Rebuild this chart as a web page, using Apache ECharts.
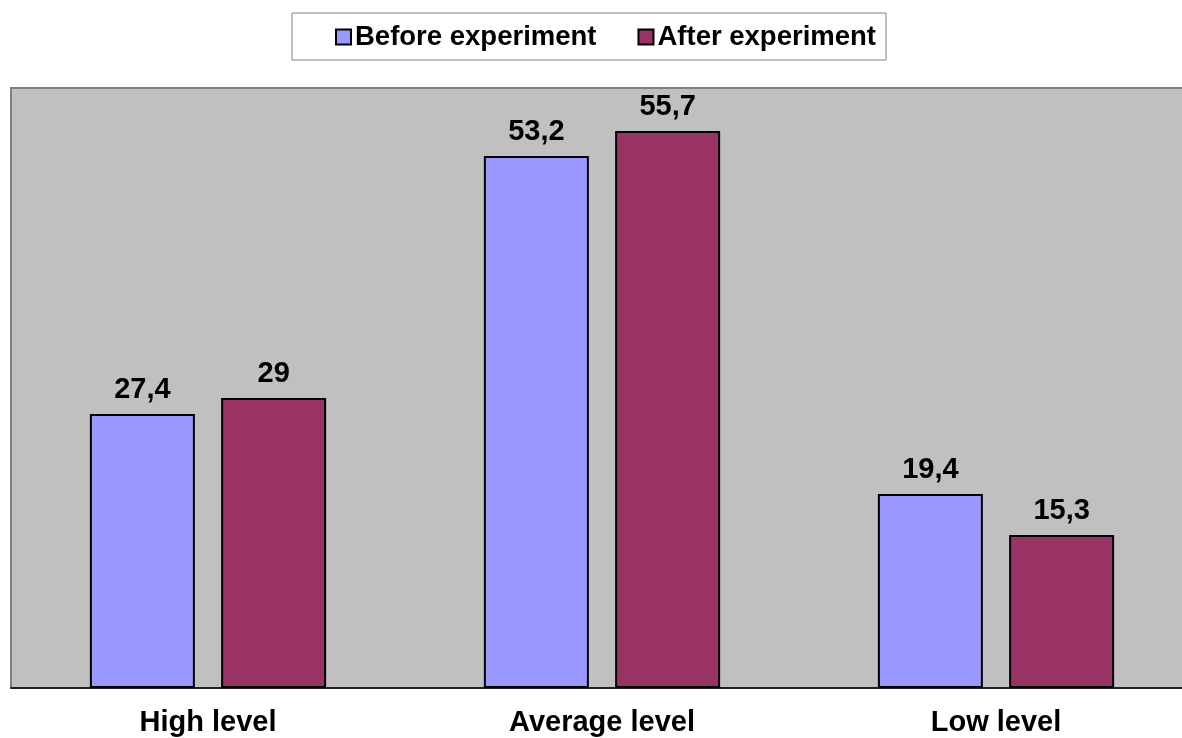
<!DOCTYPE html>
<html>
<head>
<meta charset="utf-8">
<script src="https://cdn.jsdelivr.net/npm/echarts@6/dist/echarts.min.js"></script>
<style>
html, body { margin: 0; padding: 0; background: #fff; overflow: hidden; }
#main { width: 1193px; height: 738px; }
</style>
</head>
<body>
<div id="main"></div>
<script>
var categories = ['High level', 'Average level', 'Low level'];
var beforeValues = [27.4, 53.2, 19.4];
var afterValues = [29, 55.7, 15.3];
var seriesNames = ['Before experiment', 'After experiment'];

var myChart = echarts.init(document.getElementById('main'));

var font = '"Liberation Sans", Arial, sans-serif';

var labelStyle = {
    show: true,
    position: 'top',
    distance: 10,
    color: '#000',
    fontFamily: font,
    fontWeight: 'bold',
    fontSize: 29,
    formatter: function (p) {
        return String(p.value).replace('.', ',');
    }
};

option = {
    backgroundColor: '#fff',
    legend: {
        top: 13,
        left: 292,
        itemWidth: 15,
        itemHeight: 15,
        itemGap: 41,
        padding: [10, 10, 9, 43],
        borderColor: '#808080',
        borderWidth: 1,
        icon: 'rect',
        itemStyle: { borderColor: '#000', borderWidth: 2 },
        textStyle: {
            fontFamily: font,
            fontWeight: 'bold',
            fontSize: 27.5,
            color: '#000',
            padding: [0, 0, 0, -1]
        },
        data: seriesNames
    },
    grid: {
        show: true,
        left: 11,
        top: 88,
        right: 0,
        height: 600,
        backgroundColor: '#c0c0c0',
        borderColor: '#808080',
        borderWidth: 2
    },
    xAxis: {
        type: 'category',
        data: categories,
        axisLine: { lineStyle: { color: '#000', width: 1.5 } },
        axisTick: { show: false },
        axisLabel: {
            margin: 20,
            color: '#000',
            fontFamily: font,
            fontWeight: 'bold',
            fontSize: 29
        }
    },
    yAxis: {
        type: 'value',
        min: 0,
        max: 60,
        show: false,
        splitLine: { show: false }
    },
    series: [
        {
            name: seriesNames[0],
            type: 'bar',
            barWidth: 105,
            barGap: '25%',
            data: beforeValues,
            itemStyle: { color: '#9999ff', borderColor: '#000', borderWidth: 2 },
            label: labelStyle
        },
        {
            name: seriesNames[1],
            type: 'bar',
            barWidth: 105,
            barGap: '25%',
            data: afterValues,
            itemStyle: { color: '#993366', borderColor: '#000', borderWidth: 2 },
            label: labelStyle
        }
    ]
};

myChart.setOption(option);
</script>
</body>
</html>
